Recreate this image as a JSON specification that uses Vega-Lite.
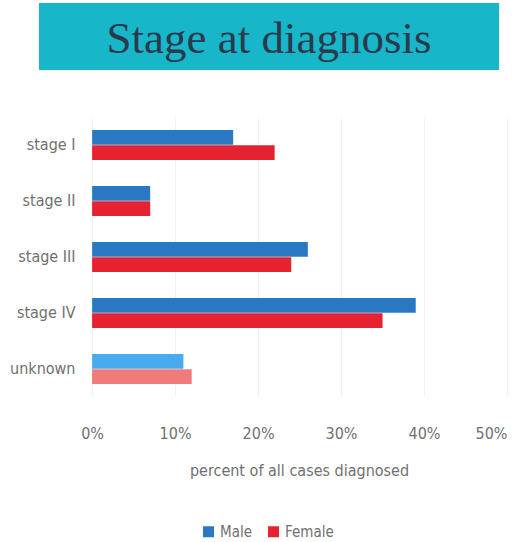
{
  "$schema": "https://vega.github.io/schema/vega-lite/v6.json",
  "padding": {"left": 9, "top": 3, "right": 5, "bottom": 0},
  "background": "white",
  "config": {"view": {"stroke": null}, "font": "DejaVu Sans Condensed, Roboto, sans-serif"},
  "spacing": 47,
  "vconcat": [
    {
      "width": 460,
      "height": 67,
      "view": {"fill": "#17b6c9", "stroke": null},
      "data": {"values": [{"title": "Stage at diagnosis"}]},
      "mark": {"type": "text", "font": "Liberation Serif", "fontSize": 45, "color": "#2a3a4c", "align": "center", "baseline": "middle", "dy": 2},
      "encoding": {
        "text": {"field": "title"}
      }
    },
    {
      "width": 468,
      "height": 280,
      "data": {"values": [
        {"stage": "stage I", "sex": "Male", "key": "Male", "pct": 17},
        {"stage": "stage I", "sex": "Female", "key": "Female", "pct": 22},
        {"stage": "stage II", "sex": "Male", "key": "Male", "pct": 7},
        {"stage": "stage II", "sex": "Female", "key": "Female", "pct": 7},
        {"stage": "stage III", "sex": "Male", "key": "Male", "pct": 26},
        {"stage": "stage III", "sex": "Female", "key": "Female", "pct": 24},
        {"stage": "stage IV", "sex": "Male", "key": "Male", "pct": 39},
        {"stage": "stage IV", "sex": "Female", "key": "Female", "pct": 35},
        {"stage": "unknown", "sex": "Male", "key": "Male unknown", "pct": 11},
        {"stage": "unknown", "sex": "Female", "key": "Female unknown", "pct": 12}
      ]},
      "mark": {"type": "bar"},
      "encoding": {
        "y": {
          "field": "stage", "type": "nominal",
          "sort": ["stage I", "stage II", "stage III", "stage IV", "unknown"],
          "scale": {"paddingInner": 0.46, "paddingOuter": 0.23},
          "axis": {"title": null, "domain": false, "ticks": false, "offset": -53, "labelPadding": 17, "labelFontSize": 16, "labelColor": "#707070"}
        },
        "yOffset": {
          "field": "sex", "type": "nominal",
          "sort": ["Male", "Female"],
          "scale": {"paddingInner": 0.03}
        },
        "x": {
          "field": "pct", "type": "quantitative",
          "scale": {"domain": [-6.4, 50], "nice": false, "zero": false},
          "axis": {
            "title": "percent of all cases diagnosed",
            "titleFontSize": 16, "titleFontWeight": "normal", "titleColor": "#707070", "titlePadding": 21,
            "titleX": 260,
            "values": [0, 10, 20, 30, 40, 50],
            "labelExpr": "datum.value + '%'",
            "labelFontSize": 16, "labelColor": "#707070", "labelPadding": 28,
            "domain": false, "ticks": false,
            "grid": true, "gridColor": "#f2f2f2"
          }
        },
        "color": {
          "field": "key", "type": "nominal",
          "scale": {"domain": ["Male", "Female", "Male unknown", "Female unknown"], "range": ["#2b78c2", "#e5222f", "#4aaaee", "#f07b7b"]},
          "legend": {"values": ["Male", "Female"], "orient": "none", "legendX": 162, "legendY": 521, "direction": "horizontal", "title": null, "symbolType": "square", "symbolSize": 120, "symbolStrokeWidth": 0, "labelFontSize": 15, "labelColor": "#707070", "columnPadding": 14}
        }
      }
    }
  ]
}
